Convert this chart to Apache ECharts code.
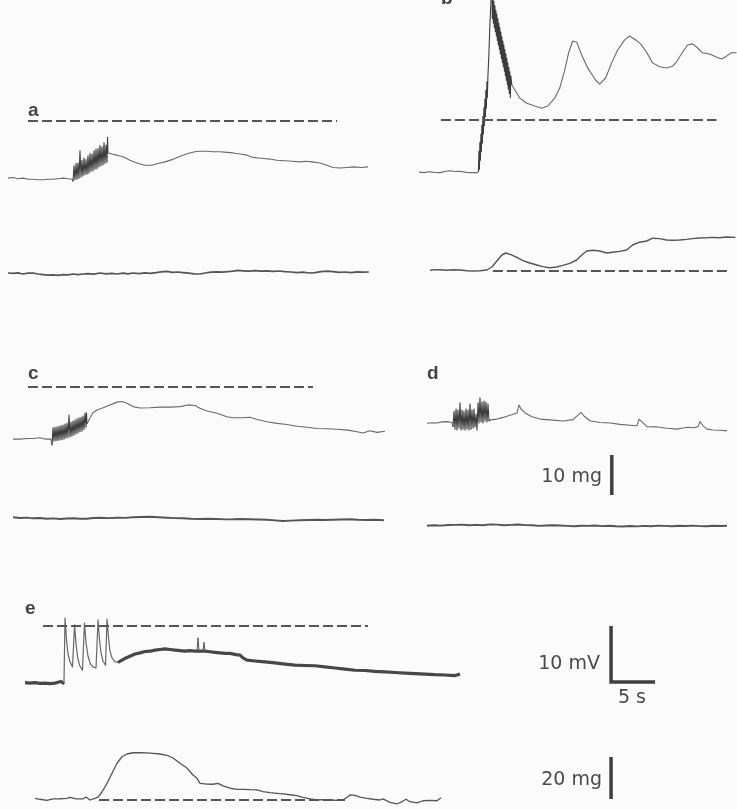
<!DOCTYPE html>
<html>
<head>
<meta charset="utf-8">
<script src="https://cdn.jsdelivr.net/npm/echarts@6/dist/echarts.min.js"></script>
<style>
  html, body { margin: 0; padding: 0; background: #fbfbfb; }
  #chart { width: 737px; height: 809px; }
</style>
</head>
<body>
<div id="chart"></div>
<script>
// ---- Recordings: membrane potential (mV, 0 = dashed reference) and tension (mg) vs time (s) ----

// a: membrane potential
const aVmRest = [[0,-10.2],[0.6,-10.1],[1.1,-10.3],[1.7,-10.2],[2.3,-10.4],[2.8,-10.4],[3.4,-10.5],[4.0,-10.5],[4.5,-10.4],[5.1,-10.4],[5.7,-10.3],[6.3,-10.2],[6.8,-10.3],[7.3,-10.4],[7.39,-10.8]];
const aVmBurst = [[7.39,-10.8],[7.5,-8.0],[7.61,-10.5],[7.73,-7.6],[7.84,-10.4],[7.95,-7.5],[8.07,-10.2],[8.18,-5.3],[8.30,-10.0],[8.41,-7.0],[8.52,-9.8],[8.64,-6.6],[8.75,-9.6],[8.86,-6.9],[8.98,-9.5],[9.09,-6.2],[9.20,-9.3],[9.32,-5.8],[9.43,-9.0],[9.55,-5.9],[9.66,-8.9],[9.77,-5.3],[9.89,-8.6],[10.0,-5.0],[10.11,-8.5],[10.23,-4.9],[10.34,-8.2],[10.45,-4.4],[10.57,-8.0],[10.68,-4.6],[10.80,-7.8],[10.91,-3.9],[11.02,-7.6],[11.14,-4.3],[11.25,-7.4],[11.31,-2.9],[11.36,-5.7]];
const aVmAfter = [[11.36,-5.7],[11.82,-5.9],[12.39,-6.1],[13.07,-6.4],[13.86,-7.0],[14.66,-7.5],[15.57,-7.9],[16.36,-7.9],[17.05,-7.6],[17.84,-7.3],[18.64,-6.9],[19.55,-6.3],[20.45,-5.8],[21.25,-5.5],[21.82,-5.4],[22.61,-5.4],[23.30,-5.5],[24.09,-5.5],[24.89,-5.6],[25.57,-5.7],[26.36,-5.9],[27.16,-6.1],[27.84,-6.5],[28.41,-6.6],[29.09,-6.7],[29.77,-6.8],[30.57,-7.0],[31.48,-7.1],[32.27,-7.2],[33.18,-7.3],[33.86,-7.2],[34.55,-7.3],[35.45,-7.5],[36.25,-7.9],[36.93,-8.3],[37.73,-8.4],[38.52,-8.3],[39.32,-8.2],[40.11,-8.3],[40.91,-8.2]];
// a: tension
const aTension = [[0,0],[0.57,-0.1],[1.14,0.05],[1.7,-0.25],[2.27,-0.05],[2.84,0],[3.41,-0.25],[3.98,-0.4],[4.55,-0.55],[5.11,-0.45],[5.68,-0.6],[6.25,-0.4],[6.82,-0.45],[7.39,-0.25],[7.95,-0.4],[8.52,-0.25],[9.09,-0.15],[9.77,-0.3],[10.45,0],[11.14,-0.2],[11.82,-0.1],[12.39,-0.25],[13.07,-0.05],[13.64,-0.2],[14.2,0],[14.89,-0.15],[15.57,0.05],[16.14,-0.1],[16.82,0.1],[17.39,0.3],[18.07,0.4],[18.64,0.15],[19.32,0.25],[19.89,0.1],[20.57,-0.05],[21.14,-0.2],[21.82,-0.25],[22.39,0],[23.07,0.2],[23.75,0.3],[24.32,0.2],[25.0,0.35],[25.57,0.45],[26.14,0.65],[26.7,0.55],[27.39,0.45],[28.07,0.6],[28.75,0.45],[29.43,0.55],[30.11,0.4],[30.8,0.5],[31.48,0.35],[32.16,0.25],[32.84,0.1],[33.52,0.2],[34.2,0],[34.89,0.1],[35.57,0.35],[36.25,0.45],[36.93,0.35],[37.61,0.15],[38.3,0.25],[38.98,0.1],[39.66,0.3],[40.34,0.2],[41.0,0.25]];

// b: membrane potential
const bVmRest = [[0,-9.3],[0.57,-9.4],[1.14,-9.25],[1.7,-9.35],[2.39,-9.4],[2.95,-9.2],[3.52,-9.05],[4.09,-9.2],[4.66,-9.15],[5.34,-9.35],[5.98,-9.4],[6.70,-9.4]];
const bVmUpstroke = [[6.76,-9.3],[6.82,-5.6],[6.88,-8.8],[6.93,-4.0],[6.99,-7.2],[7.05,-2.5],[7.10,-5.6],[7.16,-0.9],[7.22,-4.1],[7.27,0.6],[7.33,-2.5],[7.39,2.2],[7.44,-1.0],[7.50,3.7],[7.56,0.6],[7.61,5.3],[7.67,2.1],[7.73,6.8],[7.78,4.0],[7.84,7.6],[7.95,11.5],[8.07,17.0],[8.24,22.9]];
const bVmDecay = [[8.30,22.8],[8.35,18.1],[8.41,22.0],[8.47,17.3],[8.52,21.2],[8.58,16.5],[8.64,20.4],[8.69,15.75],[8.75,19.6],[8.81,15.0],[8.86,18.9],[8.92,14.2],[8.98,18.1],[9.03,13.4],[9.09,17.3],[9.15,12.6],[9.20,16.5],[9.26,11.8],[9.32,15.7],[9.38,11.0],[9.43,14.9],[9.49,10.25],[9.55,14.1],[9.60,9.5],[9.66,13.4],[9.72,8.7],[9.77,12.6],[9.83,7.9],[9.89,11.8],[9.94,7.1],[10.0,11.0],[10.06,6.3],[10.11,10.2],[10.17,5.5],[10.23,9.4],[10.28,4.75],[10.34,8.6],[10.40,4.0],[10.45,7.9],[10.57,6.25]];
const bVmOscillation = [[10.57,6.25],[10.91,5.4],[11.48,3.9],[12.27,3.0],[13.18,2.5],[13.98,2.1],[14.66,2.5],[15.45,3.9],[16.02,5.7],[16.59,8.9],[17.05,12.1],[17.5,14.1],[17.95,13.9],[18.52,11.6],[19.2,9.3],[20.11,7.1],[20.57,6.4],[21.25,7.5],[21.93,10.2],[22.61,12.5],[23.41,14.3],[23.98,15.0],[24.66,14.3],[25.23,13.6],[25.91,12.1],[26.59,10.2],[27.39,9.5],[28.18,9.3],[28.86,9.6],[29.32,10.4],[30.0,12.1],[30.57,13.4],[31.14,13.6],[31.7,12.9],[32.27,12.0],[33.07,11.8],[33.86,11.25],[34.43,10.9],[35.0,11.4],[35.57,12.0],[36.14,12.0]];
// b: tension
const bTension = [[1.25,0.18],[1.82,0.35],[2.39,0.33],[3.18,0.18],[3.86,0.33],[4.66,0.25],[5.45,0.08],[6.14,0],[6.93,0.08],[7.73,0.25],[8.30,1.0],[8.86,2.5],[9.43,4.0],[9.89,4.5],[10.45,4.1],[11.14,3.4],[11.82,2.6],[12.61,2.0],[13.41,1.5],[14.09,1.1],[14.89,0.8],[15.68,1.0],[16.36,1.4],[17.16,1.9],[17.95,2.75],[18.52,4.0],[19.09,5.0],[19.77,5.2],[20.57,5.0],[21.36,4.5],[22.05,4.7],[22.84,4.9],[23.64,5.25],[24.32,6.5],[25.11,7.2],[25.91,7.5],[26.59,8.2],[27.39,8.1],[28.18,7.75],[28.86,7.7],[29.66,7.75],[30.45,7.9],[31.14,8.1],[31.93,8.25],[32.73,8.3],[33.41,8.4],[34.2,8.3],[35.0,8.5],[36.02,8.4]];

// c: membrane potential
const cVmRest = [[0,-9.3],[0.8,-9.3],[1.59,-9.2],[2.27,-9.2],[3.07,-9.05],[3.64,-9.3],[4.32,-9.3],[4.43,-10.4]];
const cVmBurst = [[4.43,-10.4],[4.55,-7.3],[4.66,-9.7],[4.77,-7.2],[4.89,-9.6],[5.0,-7.1],[5.11,-9.55],[5.23,-7.0],[5.34,-9.45],[5.45,-6.9],[5.57,-9.4],[5.68,-6.8],[5.8,-9.3],[5.91,-6.6],[6.02,-9.1],[6.14,-6.5],[6.25,-9.0],[6.36,-5.0],[6.48,-8.9],[6.59,-6.25],[6.7,-8.75],[6.82,-6.1],[6.93,-8.6],[7.05,-5.9],[7.16,-8.4],[7.27,-5.7],[7.39,-8.2],[7.5,-5.5],[7.61,-8.0],[7.73,-5.4],[7.84,-7.9],[7.95,-5.2],[8.07,-7.6],[8.18,-4.7],[8.3,-7.2],[8.35,-4.6],[8.41,-6.6]];
const cVmAfter = [[8.41,-6.6],[8.75,-5.5],[9.09,-4.6],[9.55,-4.1],[10.23,-3.7],[11.02,-3.2],[11.82,-2.7],[12.39,-2.6],[12.95,-2.9],[13.64,-3.5],[14.43,-3.75],[15.57,-3.7],[16.7,-3.6],[17.84,-3.6],[18.98,-3.5],[19.89,-3.2],[20.68,-3.3],[21.25,-3.8],[22.05,-4.3],[23.18,-4.7],[24.32,-5.3],[25.0,-5.5],[26.14,-5.5],[26.93,-5.4],[27.73,-5.8],[28.86,-6.2],[30.0,-6.5],[31.14,-6.7],[32.27,-7.0],[33.41,-7.2],[34.55,-7.4],[35.68,-7.45],[36.82,-7.55],[38.07,-7.7],[39.09,-8.0],[39.77,-8.2],[40.57,-7.8],[41.36,-8.1],[42.27,-7.9]];
// c: tension
const cTension = [[0,0.18],[0.8,0],[1.59,0.1],[2.27,-0.08],[3.07,0],[3.86,-0.18],[4.55,-0.1],[5.34,-0.25],[6.14,-0.12],[6.82,-0.08],[7.61,-0.2],[8.41,-0.18],[9.09,0],[9.89,0.08],[10.8,-0.02],[11.82,0.08],[12.73,0.02],[13.64,0.18],[14.55,0.25],[15.57,0.33],[16.48,0.2],[17.5,0.08],[18.41,-0.02],[19.32,-0.08],[20.23,-0.2],[21.25,-0.25],[22.16,-0.18],[23.18,-0.25],[24.09,-0.35],[25.0,-0.33],[25.91,-0.25],[26.93,-0.33],[27.84,-0.38],[28.86,-0.42],[29.77,-0.6],[30.68,-0.75],[31.59,-0.65],[32.61,-0.58],[33.52,-0.5],[34.55,-0.42],[35.45,-0.5],[36.36,-0.42],[37.27,-0.38],[38.3,-0.33],[39.2,-0.45],[40.23,-0.5],[41.14,-0.45],[42.16,-0.58]];

// d: membrane potential (0 = resting level)
const dVmRest = [[0,-0.05],[0.57,0.05],[1.14,0],[1.7,0.2],[2.27,0.25],[2.84,0.1],[2.95,-0.7]];
const dVmBurst = [[2.95,-0.7],[3.07,2.1],[3.18,-1.1],[3.3,2.5],[3.41,-1.25],[3.52,2.3],[3.64,-0.9],[3.75,3.6],[3.86,-1.25],[3.98,2.3],[4.09,-1.1],[4.2,2.1],[4.32,-1.25],[4.43,2.5],[4.55,-1.0],[4.66,2.3],[4.77,-1.25],[4.89,3.4],[5.0,-1.1],[5.11,2.3],[5.23,-0.9],[5.34,2.5],[5.45,-0.7],[5.57,1.6],[5.68,-1.25],[5.8,3.6],[5.91,0],[6.02,4.5],[6.14,0.2],[6.25,3.75],[6.36,0],[6.48,3.9],[6.59,0.35],[6.7,3.75],[6.82,0.2],[6.93,3.4],[7.05,0.35],[7.16,0.55]];
const dVmAfter = [[7.16,0.55],[7.95,0.7],[8.64,1.0],[9.43,1.4],[10.23,1.8],[10.45,3.2],[10.68,2.5],[11.14,1.8],[11.93,1.1],[12.84,0.7],[13.98,0.55],[15.45,0.35],[16.59,0.6],[17.16,1.4],[17.5,1.9],[17.84,1.25],[18.52,0.4],[19.66,0.1],[20.8,0],[21.93,-0.25],[23.07,-0.4],[23.86,-0.5],[24.09,0.7],[24.43,0.2],[25.0,-0.65],[26.14,-0.7],[27.27,-0.95],[28.41,-1.1],[29.09,-0.9],[29.66,-0.75],[30.34,-0.85],[30.8,-0.65],[31.02,0.25],[31.36,-0.5],[31.82,-1.1],[32.5,-1.25],[33.3,-1.3],[34.09,-1.4]];
// d: tension
const dTension = [[0,-0.05],[0.8,0.08],[1.59,-0.02],[2.39,0.12],[3.18,0.15],[3.98,0.22],[4.77,0.08],[5.57,0.15],[6.36,0.05],[7.16,0.28],[7.95,0.22],[8.75,0.08],[9.55,0.15],[10.34,0.25],[11.14,0.1],[11.93,0.05],[12.73,-0.1],[13.52,0],[14.32,0.08],[15.11,0],[15.91,-0.1],[16.7,-0.18],[17.5,-0.05],[18.3,-0.1],[19.09,0],[19.89,-0.15],[20.68,-0.08],[21.48,-0.2],[22.27,-0.25],[23.07,-0.12],[23.86,-0.22],[24.66,-0.1],[25.45,-0.18],[26.25,-0.02],[27.05,-0.1],[27.84,-0.2],[28.64,-0.08],[29.43,-0.12],[30.23,-0.02],[31.02,-0.15],[31.82,-0.18],[32.61,-0.05],[33.41,-0.12],[34.09,-0.05]];

// e: membrane potential
const eVmRest = [[0,-10.1],[0.57,-10.2],[1.14,-10.1],[1.7,-10.25],[2.27,-10.2],[2.84,-10.3],[3.41,-10.2],[3.86,-10.0],[4.09,-9.9],[4.32,-10.2],[4.43,-10.0]];
const eVmSpikes = [[4.43,-10.0],[4.55,1.4],[4.72,-2.5],[4.89,-5.0],[5.11,-6.4],[5.40,-7.3],[5.63,0.2],[5.80,-3.2],[5.97,-5.5],[6.19,-7.0],[6.53,-7.9],[6.76,0.5],[6.93,-2.9],[7.16,-5.4],[7.44,-6.8],[7.73,-7.3],[8.07,-7.5],[8.30,1.1],[8.47,-2.5],[8.64,-4.8],[8.86,-6.25],[9.15,-7.0],[9.32,1.25],[9.49,-2.1],[9.66,-4.5],[9.89,-5.7],[10.23,-6.4],[10.57,-6.5]];
const eVmAfter = [[10.57,-6.5],[11.02,-6.1],[11.48,-5.7],[11.93,-5.4],[12.5,-5.0],[13.07,-4.8],[13.64,-4.55],[14.2,-4.5],[14.77,-4.3],[15.34,-4.2],[15.91,-4.1],[16.48,-4.2],[17.05,-4.3],[17.61,-4.4],[18.18,-4.5],[18.75,-4.4],[19.32,-4.5],[20.0,-4.5],[20.45,-4.5],[21.02,-4.6],[21.59,-4.7],[22.16,-4.8],[22.73,-4.9],[23.3,-4.9],[23.98,-5.1],[24.43,-5.2],[24.77,-5.7],[25.23,-6.1],[26.14,-6.25],[27.27,-6.4],[28.41,-6.6],[29.55,-6.8],[30.68,-7.0],[31.82,-7.05],[32.95,-7.1],[34.09,-7.3],[35.23,-7.5],[36.36,-7.7],[37.5,-7.9],[38.64,-7.95],[39.77,-8.1],[40.91,-8.2],[42.05,-8.3],[43.18,-8.4],[44.32,-8.5],[45.45,-8.6],[46.59,-8.7],[47.73,-8.75],[48.86,-8.85],[49.43,-8.6]];
const eVmBlip1 = [[19.55,-4.3],[19.66,-2.1],[19.77,-4.3]];
const eVmBlip2 = [[20.23,-4.3],[20.34,-2.9],[20.45,-4.5]];
// e: tension
const eTension = [[1.14,0.8],[1.70,0.35],[2.5,-0.15],[3.18,0.5],[3.98,0.6],[4.77,0.8],[5.11,1.3],[5.68,0.6],[6.59,0.5],[6.93,1.4],[7.39,0],[7.95,0.8],[8.30,1.4],[8.75,3.8],[9.32,7.95],[9.89,12.7],[10.45,17.5],[11.02,20.6],[11.59,21.9],[12.27,22.5],[13.07,22.5],[13.86,22.4],[14.55,22.2],[15.34,21.9],[16.14,21.3],[16.82,20.0],[17.61,17.5],[18.41,15.2],[19.09,11.9],[19.55,10.3],[19.89,7.95],[20.68,7.6],[21.36,7.5],[21.93,7.95],[22.5,6.7],[23.3,5.6],[24.09,5.1],[24.77,5.1],[25.57,4.9],[26.36,4.8],[27.05,3.95],[27.84,3.5],[28.64,3.2],[29.32,2.9],[30.11,2.5],[30.91,2.05],[31.59,1.3],[32.39,0.5],[33.18,0],[33.86,0.15],[34.66,0],[35.45,-0.15],[36.14,0],[36.59,1.3],[36.93,2.4],[37.5,2.2],[38.07,1.4],[38.86,0.8],[39.55,0.35],[40.34,0],[40.68,0.5],[41.48,-1.1],[42.27,-1.9],[42.95,-0.5],[43.3,0.35],[43.75,-0.8],[44.55,-1.4],[45.23,-0.35],[46.02,-0.15],[46.82,-0.35],[47.27,1.1]];

// Reference (dashed) levels: [start s, end s]
const aVmRef = [2.27, 37.39];
const bVmRef = [2.5, 33.86];
const bTensionRef = [8.41, 35.45];
const cVmRef = [1.70, 34.09];
const eVmRef = [2.05, 38.98];
const eTensionRef = [8.41, 36.36];

// Calibration bars
const barTensionAD = 10; // mg
const barVm = 10;        // mV
const barTime = 5;       // s
const barTensionE = 20;  // mg

// ---- Layout ----
const PX_PER_S = 8.8, PX_PER_MV = 5.6, PX_PER_MG = 4.0, PX_PER_MG_E = 2.1;
const frames = {
  aVm: { left: 8,   zeroY: 121,   tMax: 41.4, vMin: -12, vMax: 3,     ppu: PX_PER_MV },
  aT:  { left: 8,   zeroY: 273,   tMax: 41.4, vMin: -3,  vMax: 3,     ppu: PX_PER_MG },
  bVm: { left: 419, zeroY: 120,   tMax: 36.2, vMin: -12, vMax: 120 / PX_PER_MV, ppu: PX_PER_MV },
  bT:  { left: 419, zeroY: 271,   tMax: 36.2, vMin: -3,  vMax: 11,    ppu: PX_PER_MG },
  cVm: { left: 13,  zeroY: 387,   tMax: 42.4, vMin: -12, vMax: 3,     ppu: PX_PER_MV },
  cT:  { left: 13,  zeroY: 518,   tMax: 42.4, vMin: -3,  vMax: 3,     ppu: PX_PER_MG },
  dVm: { left: 427, zeroY: 423,   tMax: 34.2, vMin: -3,  vMax: 6,     ppu: PX_PER_MV },
  dT:  { left: 427, zeroY: 525.5, tMax: 34.2, vMin: -3,  vMax: 19,    ppu: PX_PER_MG },
  eVm: { left: 25,  zeroY: 626,   tMax: 72,   vMin: -12, vMax: 3,     ppu: PX_PER_MV },
  eT:  { left: 25,  zeroY: 800,   tMax: 72,   vMin: -3,  vMax: 25,    ppu: PX_PER_MG_E }
};
const barPos = {
  ad: { frame: 'dT',  t: 21.0, v: 7.6 },
  vm: { frame: 'eVm', t: 66.6, v: -10 },
  e:  { frame: 'eT',  t: 66.6, v: 0.5 }
};

const INK = '#4a4a4a';
const thin = { color: '#6a6a6a', width: 1.1 };
const burst = { color: '#3c3c3c', width: 1.1 };
const dashed = { color: '#555', width: 2, type: [10, 4] };
const bar = { color: '#3f3f3f', width: 3.5, cap: 'butt' };
const thick = { color: '#474747', width: 3.2 };

const keys = Object.keys(frames);
const grid = [], xAxis = [], yAxis = [];
keys.forEach((k, i) => {
  const f = frames[k];
  grid.push({ left: f.left, top: f.zeroY - f.vMax * f.ppu,
              width: f.tMax * PX_PER_S, height: (f.vMax - f.vMin) * f.ppu, show: false });
  xAxis.push({ type: 'value', gridIndex: i, min: 0, max: f.tMax, show: false });
  yAxis.push({ type: 'value', gridIndex: i, min: f.vMin, max: f.vMax, show: false });
});

const series = [];
function trace(frame, data, style) {
  const i = keys.indexOf(frame);
  series.push({ type: 'line', xAxisIndex: i, yAxisIndex: i, data: data,
    showSymbol: false, symbol: 'none', silent: true, clip: true,
    lineStyle: Object.assign({ join: 'round' }, style) });
}
function ref(frame, span) {
  trace(frame, [[span[0], 0], [span[1], 0]], dashed);
}

trace('aVm', aVmRest, thin);
trace('aVm', aVmBurst, burst);
trace('aVm', aVmAfter, thin);
ref('aVm', aVmRef);
trace('aT', aTension, { color: '#555', width: 1.7 });

trace('bVm', bVmRest, thin);
trace('bVm', bVmUpstroke, burst);
trace('bVm', bVmDecay, burst);
trace('bVm', bVmOscillation, thin);
ref('bVm', bVmRef);
trace('bT', bTension, { color: '#555', width: 1.4 });
ref('bT', bTensionRef);

trace('cVm', cVmRest, thin);
trace('cVm', cVmBurst, burst);
trace('cVm', cVmAfter, thin);
ref('cVm', cVmRef);
trace('cT', cTension, { color: '#555', width: 1.9 });

trace('dVm', dVmRest, thin);
trace('dVm', dVmBurst, burst);
trace('dVm', dVmAfter, thin);
trace('dT', dTension, { color: '#555', width: 1.9 });

trace('eVm', eVmRest, thick);
trace('eVm', eVmSpikes, { color: '#666', width: 1.2 });
trace('eVm', eVmAfter, thick);
trace('eVm', eVmBlip1, { color: '#555', width: 1 });
trace('eVm', eVmBlip2, { color: '#555', width: 1 });
ref('eVm', eVmRef);
trace('eT', eTension, { color: '#555', width: 1.3 });
ref('eT', eTensionRef);

// calibration bars
const p = barPos;
trace(p.ad.frame, [[p.ad.t, p.ad.v], [p.ad.t, p.ad.v + barTensionAD]], bar);
trace(p.vm.frame, [[p.vm.t, p.vm.v + barVm], [p.vm.t, p.vm.v], [p.vm.t + barTime, p.vm.v]],
      Object.assign({}, bar, { join: 'miter' }));
trace(p.e.frame, [[p.e.t, p.e.v], [p.e.t, p.e.v + barTensionE]], bar);

// text
const letterFont = 'bold 19px "Liberation Sans", Arial, sans-serif';
const unitFont = '19px "DejaVu Sans", sans-serif';
function letter(t, x, y) {
  return { type: 'text', x: x, y: y, silent: true,
           style: { text: t, font: letterFont, fill: '#444', align: 'left', verticalAlign: 'bottom' } };
}
function unit(t, x, y, align) {
  return { type: 'text', x: x, y: y, silent: true,
           style: { text: t, font: unitFont, fill: INK, align: align, verticalAlign: 'middle' } };
}

const chart = echarts.init(document.getElementById('chart'), null, { renderer: 'canvas' });
chart.setOption({
  animation: false,
  backgroundColor: '#fbfbfb',
  grid: grid, xAxis: xAxis, yAxis: yAxis, series: series,
  graphic: [
    letter('a', 28, 120),
    letter('b', 441, 8),
    letter('c', 28, 383),
    letter('d', 427, 383),
    letter('e', 25, 618),
    unit('10 mg', 602, 477, 'right'),
    unit('10 mV', 600, 664, 'right'),
    unit('5 s', 632, 698, 'center'),
    unit('20 mg', 602, 780, 'right')
  ]
});
</script>
</body>
</html>
